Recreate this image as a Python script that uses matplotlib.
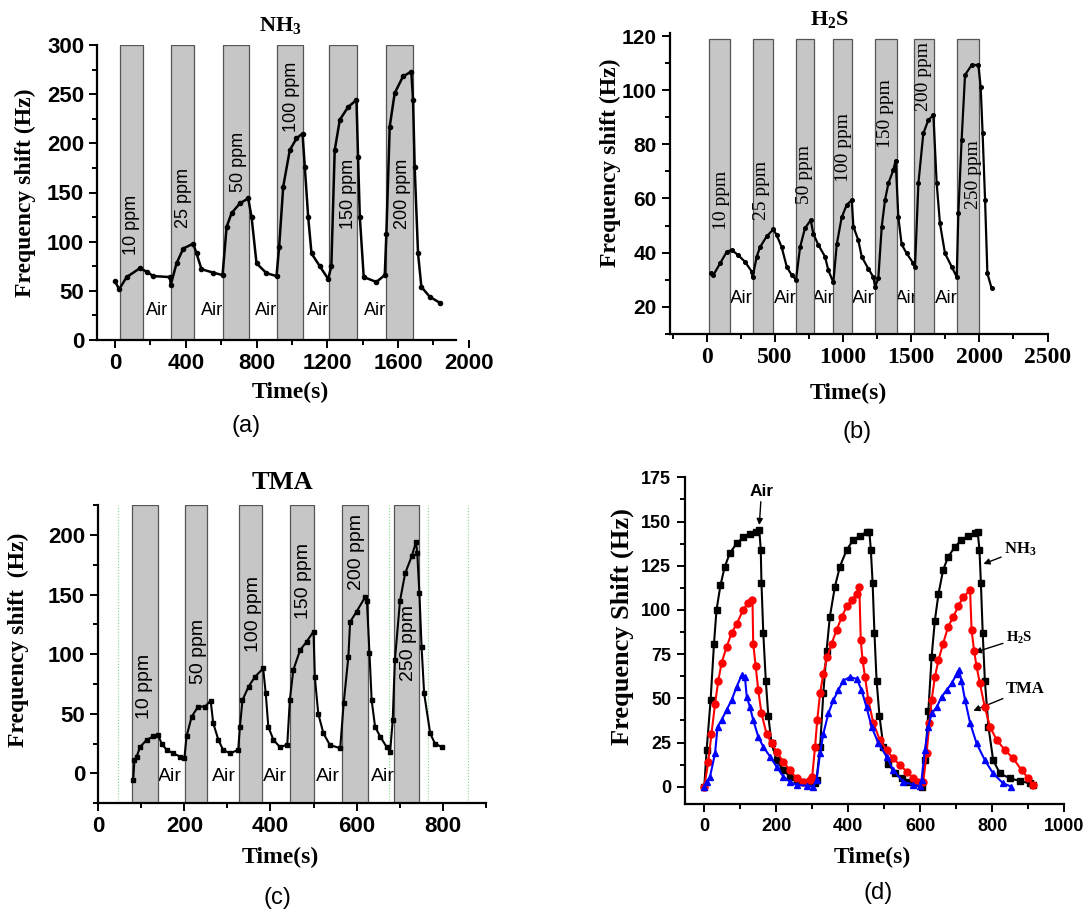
import matplotlib.pyplot as plt
from matplotlib.ticker import MultipleLocator

# ---- data ----
# (a) NH3
a_time = [0, 23, 66, 141, 179, 216, 311, 315, 348, 386, 442, 461, 489, 555, 608, 631, 659, 706, 753, 772,
          800, 856, 913, 928, 951, 988, 1026, 1060, 1073, 1092, 1111, 1158, 1205, 1223, 1242, 1271, 1318, 1365,
          1374, 1384, 1406, 1478, 1525, 1534, 1553, 1581, 1628, 1675, 1685, 1694, 1713, 1732, 1779, 1835]
a_shift = [60, 51.5, 64, 73, 69.5, 65, 64, 56, 78, 93, 98, 88, 72, 68.5, 66, 115, 129, 139, 144, 125,
           78, 68, 65, 95, 156, 193, 205, 210, 176, 125, 88, 75, 62, 75, 193, 224, 237, 244,
           186, 125, 64, 59, 66, 108, 217, 251, 268, 273, 244, 176, 88, 54, 44, 38]
a_on = [28, 318, 612, 917, 1211, 1530]
a_off = [160, 448, 755, 1064, 1370, 1683]
a_conc = ['10 ppm', '25 ppm', '50 ppm', '100 ppm', '150 ppm', '200 ppm']

# (b) H2S
b_time = [29, 49, 98, 147, 183, 232, 281, 330, 337, 367, 391, 440, 489, 513, 550, 587, 623, 655, 685, 721,
          763, 782, 819, 868, 892, 929, 954, 990, 1027, 1064, 1076, 1112, 1137, 1186, 1222, 1235, 1259, 1284,
          1308, 1333, 1369, 1386, 1406, 1430, 1467, 1516, 1528, 1553, 1589, 1626, 1663, 1687, 1711, 1748,
          1797, 1834, 1846, 1870, 1895, 1944, 1993, 2010, 2024, 2042, 2059, 2090]
b_shift = [32.3, 31.7, 36, 40.3, 41, 39, 36.6, 33, 31, 38.5, 42, 46, 48.6, 46.5, 42, 34.8, 31.7, 30, 42, 49,
           52, 47, 42.8, 38.5, 33.5, 29, 43, 53, 57.6, 59.4, 49.6, 44.6, 38.5, 34, 31, 27.4, 30.5, 49.6,
           59.4, 65.6, 70.5, 74, 53, 43, 39.7, 36, 34.8, 65.6, 84, 89, 90.8, 65.6, 50.8, 39.7,
           34.8, 31, 54.5, 81.6, 105.6, 109.3, 109.3, 101, 84, 59.4, 32.3, 26.8]
b_on = [17, 337, 653, 929, 1235, 1521, 1836]
b_off = [171, 489, 787, 1068, 1394, 1667, 1998]
b_conc = ['10 ppm', '25 ppm', '50 ppm', '100 ppm', '150 ppm', '200 ppm', '250 ppm']

# (c) TMA
c_time = [81, 84, 89, 97, 112, 128, 139, 147, 159, 174, 190, 200, 205, 217, 232, 248, 261, 267, 279, 290,
          306, 325, 329, 335, 349, 364, 383, 389, 395, 407, 422, 439, 445, 453, 469, 484, 500, 503, 511, 523,
          538, 562, 570, 581, 585, 600, 620, 624, 630, 635, 643, 655, 670, 678, 684, 689, 701, 713, 728, 738,
          741, 746, 751, 757, 771, 782, 798]
c_shift = [-5.6, 11, 14, 22, 28, 31, 32, 25, 19.6, 16.8, 14, 12.6, 31, 47.6, 56, 56, 61, 42, 28, 19.6,
           16.8, 19.6, 39, 61.5, 72.7, 81, 88, 67, 39, 28, 22, 24, 61.5, 86.7, 103.5, 110.5, 119, 81, 50, 33.6,
           23.8, 21, 58.7, 98, 127, 135.7, 148, 145, 100.7, 61.5, 39, 30.8, 22, 18, 44.8, 95, 145, 168, 182, 194,
           185, 151, 106, 67, 33.6, 25, 22]
c_on = [79, 201, 328, 445, 567, 688]
c_off = [138, 253, 381, 502, 627, 744]
c_conc = ['10 ppm', '50 ppm', '100 ppm', '150 ppm', '200 ppm', '250 ppm']
c_guides = [46, 676, 767, 858]

# (d) repeated cycles
d_nh3_t = [0, 6.5, 17.6, 27, 34, 45, 57, 71, 90, 108, 127, 145, 153,
           157, 159, 164, 171, 178, 187, 201, 220, 238, 257, 275, 294, 308,
           312, 322, 331, 340, 349, 363, 377, 396, 414, 433, 451, 459,
           463, 468, 473, 479, 487, 498, 512, 530, 549, 567, 586, 604,
           614, 623, 632, 641, 651, 664, 678, 697, 715, 734, 753, 760,
           765, 769, 774, 780, 790, 803, 822, 850, 878, 905, 915]
d_nh3_f = [0, 20.7, 49, 81, 100, 114, 124.5, 132, 137.7, 141, 143, 144, 145,
           134, 115, 87, 60, 40, 24.5, 15, 9.4, 5.7, 3.8, 2.8, 2.3, 1.9,
           3.8, 22.6, 53, 77, 96, 113, 124.5, 134, 139.5, 142, 144, 144,
           134, 115, 87, 60, 40, 22.6, 13, 7.5, 4.7, 2.8, 1.9, 0,
           15, 43, 73.5, 94, 109, 122.6, 130, 135.8, 139.5, 142, 143.7, 144,
           134, 115, 87, 60, 34, 15, 7.5, 4.7, 3.2, 1.9, 1]
d_h2s_t = [0, 11, 20, 30, 39, 48, 62, 76, 90, 108, 122, 134,
           136, 143, 150, 159, 173, 187, 201, 220, 238, 257, 275, 294,
           300, 308, 314, 322, 331, 342, 354, 368, 382, 396, 410, 424, 431,
           435, 440, 447, 456, 470, 488, 507, 525, 544, 563, 581, 595,
           609, 618, 626, 632, 641, 651, 664, 678, 692, 706, 720, 739,
           743, 750, 757, 766, 780, 794, 813, 836, 859, 882, 901, 913]
d_h2s_f = [0, 14, 30, 47, 60, 70, 79, 87, 92, 100, 104, 105.6,
           81, 68, 54.7, 41.5, 30, 24.5, 19.8, 14, 9.4, 4.7, 2.8, 3.8,
           5.7, 22.6, 37.7, 53, 64, 73.5, 81, 88.6, 96, 102, 105.6, 109, 113,
           83, 71.7, 62, 49, 36, 26.4, 20.7, 16, 12.3, 8.5, 4.7, 2.8,
           2.8, 19, 36, 49, 62, 71.7, 81, 90.5, 96, 102, 107.5, 111,
           88.6, 77, 68, 58.5, 45, 34, 26.4, 20.7, 16, 9.4, 4.7, 1]
d_tma_t = [0, 6.5, 16, 30, 37, 48, 62, 76, 90, 104, 113,
           118, 127, 136, 150, 164, 183, 201, 220, 238, 257, 285, 303,
           312, 322, 331, 345, 359, 373, 386, 405, 424,
           437, 451, 465, 484, 507, 525, 553, 581, 600,
           604, 613, 623, 632, 646, 660, 674, 688, 702, 708,
           715, 725, 739, 757, 780, 803, 831, 854]
d_tma_f = [0, 2.8, 5.7, 19, 34, 37.7, 43.4, 49, 56.6, 63, 62,
           51, 45, 37.7, 28.3, 22.6, 17, 11.3, 5.7, 2.8, 1, 0.6, 0,
           3.8, 19, 30, 41.5, 49, 54.7, 60, 62, 61,
           54.7, 45, 34, 24.5, 17, 9.4, 2.8, 1, 0.4,
           3.8, 20.7, 34, 41.5, 45, 51, 54.7, 58.5, 64, 66,
           60, 49, 36, 24.5, 15, 7.5, 1.9, 0]

# ---- layout helpers (pixel coordinates of the 1086x911 picture) ----
W, H = 1086, 911
SANS = 'Liberation Sans'
SERIF = 'Liberation Serif'

plt.rcParams['font.family'] = SANS
plt.rcParams['mathtext.fontset'] = 'custom'
plt.rcParams['mathtext.rm'] = 'Liberation Serif:bold'
plt.rcParams['mathtext.bf'] = 'Liberation Serif:bold'
plt.rcParams['mathtext.it'] = 'Liberation Serif:bold'


def box(l, t, r, b):
    return [l / W, 1 - b / H, (r - l) / W, (b - t) / H]


def at(x, y):
    return x / W, 1 - y / H


def style(ax, xticks, yticks, xminor, yminor, xfam, yfam, xsize, ysize):
    for s in ['top', 'right']:
        ax.spines[s].set_visible(False)
    for s in ['left', 'bottom']:
        ax.spines[s].set_linewidth(1.6)
    ax.set_xticks(xticks)
    ax.set_yticks(yticks)
    ax.xaxis.set_minor_locator(MultipleLocator(xminor))
    ax.yaxis.set_minor_locator(MultipleLocator(yminor))
    ax.tick_params(which='both', direction='out', width=1.4)
    ax.tick_params(which='major', length=6)
    ax.tick_params(which='minor', length=3.5)
    plt.setp(ax.get_xticklabels(), family=xfam, weight='bold', size=xsize)
    plt.setp(ax.get_yticklabels(), family=yfam, weight='bold', size=ysize)


def exposures(ax, on, off, bottom, top):
    ax.bar(on, top - bottom, width=[b - a for a, b in zip(on, off)], bottom=bottom, align='edge',
           color='#c6c6c6', edgecolor='#555555', linewidth=0.9, zorder=2)


fig = plt.figure(figsize=(W / 100, H / 100), dpi=100)

# ---------------- (a) NH3 ----------------
ax = fig.add_axes(box(97.3, 45, 468.8, 340))
ax.set_xlim(-100, 2000)
ax.set_ylim(0, 300)
exposures(ax, a_on, a_off, 0, 300)
ax.plot(a_time, a_shift, '-o', color='k', lw=1.8, ms=3, zorder=4)
a_lab_x = [94, 386, 696, 998, 1318, 1628]
a_lab_y = [117, 144, 181, 247, 149, 149]
for x, y, t in zip(a_lab_x, a_lab_y, a_conc):
    ax.text(x, y, t, rotation=90, ha='center', va='center', fontsize=13, zorder=5)
for x in [235, 546, 856, 1148, 1468]:
    ax.text(x, 30.5, 'Air', ha='center', va='center', fontsize=13, zorder=1)
style(ax, [0, 400, 800, 1200, 1600, 2000], [0, 50, 100, 150, 200, 250, 300], 200, 25,
      SANS, SANS, 16, 16)
ax.spines['bottom'].set_bounds(-100, 1925)
fig.text(*at(280, 26), r'NH$_\mathbf{3}$', family=SERIF, weight='bold', fontsize=16, ha='center', va='center')
fig.text(*at(25, 193), 'Frequency shift (Hz)', family=SERIF, weight='bold', fontsize=17,
         rotation=90, ha='center', va='center')
fig.text(*at(290, 392), 'Time(s)', family=SERIF, weight='bold', fontsize=17, ha='center', va='center')
fig.text(*at(246, 426), '(a)', fontsize=17, ha='center', va='center')

# ---------------- (b) H2S ----------------
ax = fig.add_axes(box(669.9, 33.3, 1047.5, 333.8))
ax.set_xlim(-270, 2500)
ax.set_ylim(10, 121)
exposures(ax, b_on, b_off, 10, 119)
ax.plot(b_time, b_shift, '-o', color='k', lw=1.6, ms=2.6, zorder=4)
b_lab_x = [110, 403, 721, 1002, 1308, 1589, 1956]
b_lab_y = [59.4, 63, 69, 79, 91.4, 105, 69]
for x, y, t in zip(b_lab_x, b_lab_y, b_conc):
    ax.text(x, y, t, rotation=90, ha='center', va='center', family=SERIF, fontsize=14, zorder=5)
for x in [257, 575, 856, 1149, 1467, 1760]:
    ax.text(x, 23, 'Air', ha='center', va='center', fontsize=13.5, zorder=1)
style(ax, [0, 500, 1000, 1500, 2000, 2500], [20, 40, 60, 80, 100, 120], 250, 10,
      SERIF, SANS, 17, 15)
fig.text(*at(830, 20), r'H$_\mathbf{2}$S', family=SERIF, weight='bold', fontsize=16, ha='center', va='center')
fig.text(*at(610, 163), 'Frequency shift (Hz)', family=SERIF, weight='bold', fontsize=17,
         rotation=90, ha='center', va='center')
fig.text(*at(848, 393), 'Time(s)', family=SERIF, weight='bold', fontsize=17, ha='center', va='center')
fig.text(*at(857, 432), '(b)', fontsize=17, ha='center', va='center')

# ---------------- (c) TMA ----------------
ax = fig.add_axes(box(98.3, 505.2, 485.7, 803.1))
ax.set_xlim(0, 900)
ax.set_ylim(-25, 225)
for x in c_guides:
    ax.axvline(x, color='#7fdc7f', lw=0.8, ls=':', zorder=1)
exposures(ax, c_on, c_off, -25, 225)
ax.plot(c_time, c_shift, '-s', color='k', lw=1.5, ms=2.6, zorder=4)
c_lab_x = [108, 232, 360, 476, 600, 720]
c_lab_y = [73, 102, 134, 161, 186, 109]
for x, y, t in zip(c_lab_x, c_lab_y, c_conc):
    ax.text(x, y, t, rotation=90, ha='center', va='center', fontsize=14, zorder=5)
for x in [167, 292, 411, 534, 661]:
    ax.text(x, -3, 'Air', ha='center', va='center', fontsize=14, zorder=1)
style(ax, [0, 200, 400, 600, 800], [0, 50, 100, 150, 200], 100, 25,
      SANS, SANS, 16, 16)
fig.text(*at(282, 482), 'TMA', family=SERIF, weight='bold', fontsize=19, ha='center', va='center')
fig.text(*at(18, 640), 'Frequency shift  (Hz)', family=SERIF, weight='bold', fontsize=17,
         rotation=90, ha='center', va='center')
fig.text(*at(280, 857), 'Time(s)', family=SERIF, weight='bold', fontsize=17, ha='center', va='center')
fig.text(*at(277, 898), '(c)', fontsize=17, ha='center', va='center')

# ---------------- (d) all gases ----------------
ax = fig.add_axes(box(684.5, 477.3, 1064, 804.4))
ax.set_xlim(-55, 1000)
ax.set_ylim(-10, 175)
ax.plot(d_nh3_t, d_nh3_f, '-s', color='k', lw=1.5, ms=5, zorder=3)
ax.plot(d_h2s_t, d_h2s_f, '-o', color='#ff0000', lw=1.5, ms=5, zorder=4)
ax.plot(d_tma_t, d_tma_f, '-^', color='#0000ff', lw=1.5, ms=5, zorder=5)
arrow = dict(arrowstyle='-|>', color='k', lw=1, mutation_scale=9, shrinkA=0, shrinkB=0)
ax.annotate('Air', xy=(153, 148), xytext=(159, 167), ha='center', va='center',
            fontsize=12.5, weight='bold', arrowprops=arrow)
ax.annotate(r'NH$_\mathbf{3}$', xy=(776, 126), xytext=(833, 134), ha='left', va='center',
            family=SERIF, weight='bold', fontsize=12, arrowprops=arrow)
ax.annotate(r'H$_\mathbf{2}$S', xy=(752, 76), xytext=(838, 84), ha='left', va='center',
            family=SERIF, weight='bold', fontsize=10.5, arrowprops=arrow)
ax.annotate('TMA', xy=(748, 43), xytext=(838, 55), ha='left', va='center',
            family=SERIF, weight='bold', fontsize=12, arrowprops=arrow)
style(ax, [0, 200, 400, 600, 800, 1000], [0, 25, 50, 75, 100, 125, 150, 175], 100, 12.5,
      SANS, SANS, 13, 13)
fig.text(*at(622, 627), 'Frequency Shift (Hz)', family=SERIF, weight='bold', fontsize=19,
         rotation=90, ha='center', va='center')
fig.text(*at(872, 857), 'Time(s)', family=SERIF, weight='bold', fontsize=17, ha='center', va='center')
fig.text(*at(878, 893), '(d)', fontsize=17, ha='center', va='center')

fig.savefig('out.png', dpi=100)
